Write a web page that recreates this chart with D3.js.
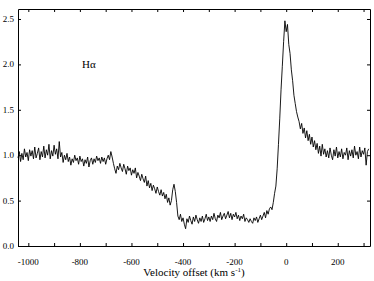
<!DOCTYPE html>
<html>
<head>
<meta charset="utf-8">
<script src="https://cdn.jsdelivr.net/npm/d3@7"></script>
<style>
  body { margin: 0; background: #fff; }
  text { font-family: "Liberation Serif", "Times New Roman", serif; fill: #000; }
</style>
</head>
<body>
<div id="chart"></div>
<script>
const width = 374
const height = 281
const margin = {top: 9, right: 4, bottom: 35, left: 18}

// spectrum (km/s, normalised flux), 5 km/s sampling
const velocity = [
  -1040, -1035, -1030, -1025, -1020, -1015, -1010, -1005, -1000, -995,
  -990, -985, -980, -975, -970, -965, -960, -955, -950, -945,
  -940, -935, -930, -925, -920, -915, -910, -905, -900, -895,
  -890, -885, -880, -875, -870, -865, -860, -855, -850, -845,
  -840, -835, -830, -825, -820, -815, -810, -805, -800, -795,
  -790, -785, -780, -775, -770, -765, -760, -755, -750, -745,
  -740, -735, -730, -725, -720, -715, -710, -705, -700, -695,
  -690, -685, -680, -675, -670, -665, -660, -655, -650, -645,
  -640, -635, -630, -625, -620, -615, -610, -605, -600, -595,
  -590, -585, -580, -575, -570, -565, -560, -555, -550, -545,
  -540, -535, -530, -525, -520, -515, -510, -505, -500, -495,
  -490, -485, -480, -475, -470, -465, -460, -455, -450, -445,
  -440, -435, -430, -425, -420, -415, -410, -405, -400, -395,
  -390, -385, -380, -375, -370, -365, -360, -355, -350, -345,
  -340, -335, -330, -325, -320, -315, -310, -305, -300, -295,
  -290, -285, -280, -275, -270, -265, -260, -255, -250, -245,
  -240, -235, -230, -225, -220, -215, -210, -205, -200, -195,
  -190, -185, -180, -175, -170, -165, -160, -155, -150, -145,
  -140, -135, -130, -125, -120, -115, -110, -105, -100, -95,
  -90, -85, -80, -75, -70, -65, -60, -55, -50, -45,
  -40, -35, -30, -25, -20, -15, -10, -5, 0, 5,
  10, 15, 20, 25, 30, 35, 40, 45, 50, 55,
  60, 65, 70, 75, 80, 85, 90, 95, 100, 105,
  110, 115, 120, 125, 130, 135, 140, 145, 150, 155,
  160, 165, 170, 175, 180, 185, 190, 195, 200, 205,
  210, 215, 220, 225, 230, 235, 240, 245, 250, 255,
  260, 265, 270, 275, 280, 285, 290, 295, 300, 305,
  310, 315, 320
]
const flux = [
  0.97, 1.04, 0.93, 1.02, 0.95, 1.07, 0.98, 1.03, 0.94, 1.06,
  0.99, 1.05, 0.96, 1.09, 0.97, 1.02, 1.08, 0.95, 1.04, 0.98,
  1.10, 0.97, 1.06, 1.00, 1.12, 0.96, 1.05, 0.99, 1.11, 1.01,
  1.07, 0.96, 1.15, 0.98, 1.03, 0.92, 1.00, 0.95, 1.02, 0.93,
  0.98, 0.89, 0.96, 0.92, 1.00, 0.94, 0.97, 0.90, 0.99, 0.93,
  0.96, 0.88, 0.95, 0.91, 0.98, 0.87, 0.94, 0.97, 0.90, 0.96,
  0.92, 0.99, 0.94, 0.97, 0.91, 0.98, 0.93, 0.97, 0.90, 0.96,
  1.00, 0.95, 1.04, 0.98, 0.91, 0.85, 0.80, 0.88, 0.84, 0.91,
  0.86, 0.82, 0.90, 0.85, 0.79, 0.88, 0.83, 0.86, 0.78, 0.84,
  0.80, 0.86, 0.75, 0.81, 0.77, 0.72, 0.79, 0.74, 0.70, 0.77,
  0.66, 0.72, 0.64, 0.69, 0.61, 0.67, 0.63, 0.58, 0.65, 0.60,
  0.56, 0.62, 0.55, 0.59, 0.52, 0.57, 0.48, 0.53, 0.45, 0.50,
  0.62, 0.68, 0.60, 0.48, 0.33, 0.29, 0.35, 0.27, 0.31, 0.24,
  0.19, 0.30, 0.26, 0.33, 0.28, 0.24, 0.32, 0.27, 0.34, 0.29,
  0.25, 0.31, 0.27, 0.33, 0.26, 0.30, 0.35, 0.28, 0.32, 0.27,
  0.33, 0.29, 0.36, 0.30, 0.27, 0.34, 0.31, 0.37, 0.29, 0.33,
  0.36, 0.30, 0.34, 0.38, 0.31, 0.36, 0.29, 0.35, 0.32, 0.37,
  0.30, 0.34, 0.28, 0.33, 0.30, 0.35, 0.27, 0.31, 0.29, 0.26,
  0.30, 0.27, 0.25, 0.31, 0.28, 0.32, 0.26, 0.30, 0.34, 0.29,
  0.33, 0.37, 0.31, 0.39, 0.35, 0.41, 0.43, 0.40, 0.48, 0.58,
  0.66, 0.85, 1.12, 1.40, 1.72, 1.98, 2.25, 2.48, 2.36, 2.44,
  2.22, 2.12, 1.94, 1.82, 1.66, 1.57, 1.48, 1.42, 1.37, 1.29,
  1.35, 1.24, 1.30, 1.19, 1.27, 1.16, 1.23, 1.12, 1.20, 1.09,
  1.16, 1.06, 1.13, 1.02, 1.10, 0.99, 1.12, 1.01, 1.07, 0.98,
  1.05, 0.97, 1.08, 1.00, 0.95, 1.06, 0.99, 1.09, 0.97, 1.04,
  0.98, 1.07, 0.96, 1.03, 1.00, 1.08, 0.95, 1.05, 0.99, 1.06,
  0.97, 1.10, 1.00, 1.04, 0.96, 1.09, 0.98, 1.05, 1.01, 1.08,
  0.89, 1.04, 1.07
]
const xTicks = [-1000, -900, -800, -700, -600, -500, -400, -300, -200, -100, 0, 100, 200, 300]
const xTickLabels = [-1000, -800, -600, -400, -200, 0, 200]
const yTicks = [0, 0.5, 1.0, 1.5, 2.0, 2.5]

const x = d3.scaleLinear().domain([-1040, 325]).range([margin.left, width - margin.right])
const y = d3.scaleLinear().domain([0, 2.61]).range([height - margin.bottom, margin.top])

const svg = d3.select("#chart")
  .append("svg")
    .attr("width", width)
    .attr("height", height)

// ticks pointing inward on all four sides
svg.append("g")
  .attr("transform", "translate(0," + y(0) + ")")
  .call(d3.axisBottom(x).tickValues(xTicks).tickSizeInner(-3).tickSizeOuter(0).tickFormat(""))
svg.append("g")
  .attr("transform", "translate(0," + y.range()[1] + ")")
  .call(d3.axisTop(x).tickValues(xTicks).tickSizeInner(-3).tickSizeOuter(0).tickFormat(""))
svg.append("g")
  .attr("transform", "translate(" + x.range()[0] + ",0)")
  .call(d3.axisLeft(y).tickValues(yTicks).tickSizeInner(-3).tickSizeOuter(0).tickFormat(""))
svg.append("g")
  .attr("transform", "translate(" + x.range()[1] + ",0)")
  .call(d3.axisRight(y).tickValues(yTicks).tickSizeInner(-3).tickSizeOuter(0).tickFormat(""))

svg.selectAll(".domain").attr("stroke", "#000")
svg.selectAll(".tick line").attr("stroke", "#000")

// tick labels
svg.selectAll(".xlab")
  .data(xTickLabels)
  .enter()
  .append("text")
    .attr("x", d => x(d))
    .attr("y", 265)
    .attr("text-anchor", "middle")
    .style("font-size", "9px")
    .text(d => d)

svg.selectAll(".ylab")
  .data(yTicks)
  .enter()
  .append("text")
    .attr("x", 14)
    .attr("y", d => y(d) + 3)
    .attr("text-anchor", "end")
    .style("font-size", "9px")
    .text(d => d.toFixed(1))

const title = svg.append("text")
  .attr("x", 194)
  .attr("y", 276)
  .attr("text-anchor", "middle")
  .style("font-size", "11px")
title.append("tspan").text("Velocity offset (km s")
title.append("tspan").attr("dy", -4).style("font-size", "7px").text("-1")
title.append("tspan").attr("dy", 4).text(")")

svg.append("text")
  .attr("x", 82)
  .attr("y", 68)
  .style("font-size", "11px")
  .text("Hα")

const line = d3.line()
  .x((d, i) => x(velocity[i]))
  .y(d => y(d))

svg.append("path")
  .datum(flux)
  .attr("d", line)
  .attr("fill", "none")
  .attr("stroke", "#000")
  .style("stroke-width", "0.9px")
</script>
</body>
</html>
